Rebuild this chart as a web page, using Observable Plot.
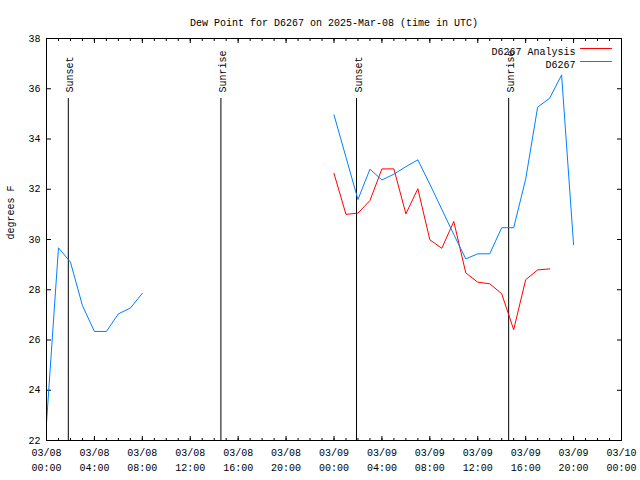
<!DOCTYPE html>
<html><head><meta charset="utf-8">
<script src="https://cdn.jsdelivr.net/npm/d3@7"></script>
<script src="https://cdn.jsdelivr.net/npm/@observablehq/plot@0.6"></script>
<style>body{margin:0;background:#fff} svg{display:block}</style>
</head><body><div id="chart"></div>
<script>
const title = "Dew Point for D6267 on 2025-Mar-08 (time in UTC)";
const yLabel = "degrees F";
const seriesNames = ["D6267 Analysis", "D6267"];
const seriesColors = ["#ff0000", "#0080ff"];
// hours since 03/08 00:00 UTC
const obsHours1 = [0, 1, 2, 3, 4, 5, 6, 7, 8];
const obsValues1 = [22.7, 29.67, 29.1, 27.37, 26.34, 26.34, 27.04, 27.27, 27.86];
const obsHours2 = [24, 26, 27, 28, 29, 30, 31, 32, 33, 34, 35, 36, 37, 38, 39, 40, 41, 42, 43, 44];
const obsValues2 = [34.96, 31.59, 32.8, 32.37, 32.6, 32.9, 33.17, 32.2, 31.2, 30.2, 29.23, 29.43, 29.43, 30.47, 30.47, 32.4, 35.27, 35.62, 36.55, 29.79];
const anaHours = [24, 25, 26, 27, 28, 29, 30, 31, 32, 33, 34, 35, 36, 37, 38, 39, 40, 41, 42];
const anaValues = [32.63, 31.0, 31.05, 31.55, 32.81, 32.81, 31.02, 32.02, 29.99, 29.65, 30.72, 28.67, 28.3, 28.24, 27.84, 26.41, 28.4, 28.79, 28.83];
const sunHours = [1.82, 14.56, 25.88, 38.58];
const sunLabels = ["Sunset", "Sunrise", "Sunset", "Sunrise"];
const xMajorTicks = [0, 4, 8, 12, 16, 20, 24, 28, 32, 36, 40, 44, 48];
const xDateLabels = ["03/08","03/08","03/08","03/08","03/08","03/08","03/09","03/09","03/09","03/09","03/09","03/09","03/10"];
const xTimeLabels = ["00:00","04:00","08:00","12:00","16:00","20:00","00:00","04:00","08:00","12:00","16:00","20:00","00:00"];
const xMinorTicks = d3.range(0, 49, 1);
const yTicks = [22, 24, 26, 28, 30, 32, 34, 36, 38];

const obs1 = obsHours1.map((h, i) => ({h, v: obsValues1[i], seg: 1}));
const obs2 = obsHours2.map((h, i) => ({h, v: obsValues2[i], seg: 2}));
const obs = obs1.concat(obs2);
const ana = anaHours.map((h, i) => ({h, v: anaValues[i]}));
const sun = sunHours.map((h, i) => ({h, label: sunLabels[i]}));
const xLab = xMajorTicks.map((h, i) => ({h, d: xDateLabels[i], t: xTimeLabels[i]}));

const lineShape = {draw(context, l) { context.moveTo(0, 0); context.lineTo(0, -l); }};

const chart = Plot.plot({
  width: 640, height: 480,
  marginLeft: 46, marginRight: 19, marginTop: 38, marginBottom: 40,
  style: {fontFamily: "'Liberation Mono', 'DejaVu Sans Mono', monospace", fontSize: "10px", background: "white", color: "black", overflow: "visible"},
  x: {domain: [0, 48]},
  y: {domain: [22, 38]},
  marks: [
    // ticks (inward, mirrored)
    Plot.axisX({anchor: "bottom", ticks: xMinorTicks, tickSize: -2, text: null, label: null}),
    Plot.axisX({anchor: "top", ticks: xMinorTicks, tickSize: -2, text: null, label: null}),
    Plot.axisX({anchor: "bottom", ticks: xMajorTicks, tickSize: -4, text: null, label: null}),
    Plot.axisX({anchor: "top", ticks: xMajorTicks, tickSize: -4, text: null, label: null}),
    Plot.axisY({anchor: "left", ticks: yTicks, tickSize: -5, text: null, label: null}),
    Plot.axisY({anchor: "right", ticks: yTicks, tickSize: -5, text: null, label: null}),
    Plot.axisY({anchor: "left", ticks: yTicks, tickSize: 0, tickPadding: 6, label: null}),
    Plot.text(xLab, {x: "h", text: "d", frameAnchor: "bottom", dy: 15}),
    Plot.text(xLab, {x: "h", text: "t", frameAnchor: "bottom", dy: 30}),
    Plot.text([yLabel], {text: d => d, frameAnchor: "left", rotate: -90, dx: -36}),
    Plot.text([title], {text: d => d, frameAnchor: "top", dy: -20}),
    // sunrise / sunset
    Plot.ruleX(sun, {x: "h", insetTop: 60, stroke: "black"}),
    Plot.text(sun, {x: "h", text: "label", frameAnchor: "top", rotate: -90, textAnchor: "start", dy: 54, dx: -2}),
    // data
    Plot.line(ana, {x: "h", y: "v", stroke: seriesColors[0], strokeWidth: 1}),
    Plot.line(obs, {x: "h", y: "v", z: "seg", stroke: seriesColors[1], strokeWidth: 1}),
    // legend
    Plot.text([seriesNames[0]], {text: d => d, frameAnchor: "top-right", textAnchor: "end", dx: -46, dy: 9}),
    Plot.text([seriesNames[1]], {text: d => d, frameAnchor: "top-right", textAnchor: "end", dx: -46, dy: 22}),
    Plot.vector([seriesNames[0]], {frameAnchor: "top-right", dx: -41, dy: 10, length: 31, rotate: 90, anchor: "start", shape: lineShape, stroke: seriesColors[0], strokeWidth: 1}),
    Plot.vector([seriesNames[1]], {frameAnchor: "top-right", dx: -41, dy: 23, length: 31, rotate: 90, anchor: "start", shape: lineShape, stroke: seriesColors[1], strokeWidth: 1}),
    Plot.frame({stroke: "black"})
  ]
});
document.getElementById("chart").appendChild(chart);
</script>
</body></html>
